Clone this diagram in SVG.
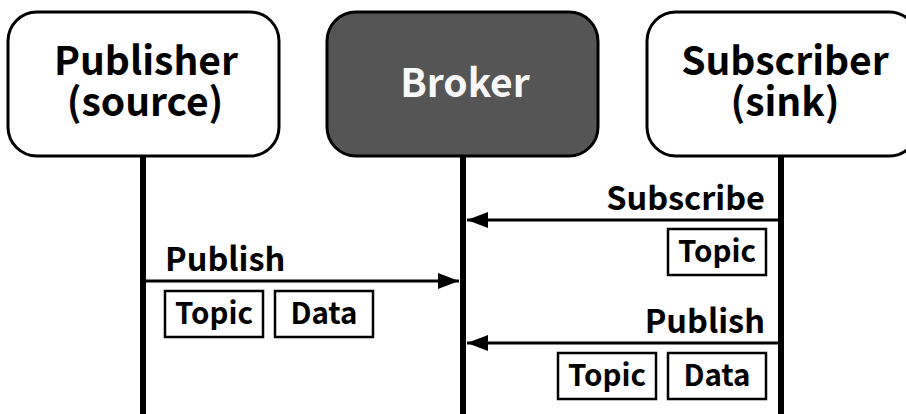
<svg xmlns="http://www.w3.org/2000/svg" width="906" height="414" viewBox="0 0 906 414">
<style>
.node{stroke:#000;stroke-width:3}
.t{font-family:"Noto Sans CJK SC","Noto Sans",sans-serif;font-weight:bold;fill:#000}
.title{font-size:39px;text-anchor:middle}
.lbl{font-size:32.5px}
.fld{font-size:29.5px;text-anchor:middle}
.life{stroke:#000;stroke-width:6}
.msg{stroke:#000;stroke-width:3}
.box{fill:#fff;stroke:#000;stroke-width:2.5}
</style>
<defs>
<marker id="ah" viewBox="0 0 21 16" refX="21" refY="8" markerWidth="21" markerHeight="16" markerUnits="userSpaceOnUse" orient="auto">
<path d="M0,0 L21,8 L0,16 Z" fill="#000"/>
</marker>
</defs>
<rect width="906" height="414" fill="#fff"/>
<g id="connectors">
<line class="life" x1="143" y1="156" x2="143" y2="414"/>
<line class="life" x1="463" y1="156" x2="463" y2="414"/>
<line class="life" x1="781" y1="156" x2="781" y2="414"/>
<line class="msg" x1="143" y1="281" x2="459" y2="281" marker-end="url(#ah)"/>
<line class="msg" x1="781" y1="220" x2="467" y2="220" marker-end="url(#ah)"/>
<line class="msg" x1="781" y1="343" x2="467" y2="343" marker-end="url(#ah)"/>
</g>
<g id="publisher">
<rect class="node" x="8" y="12" width="271" height="144" rx="29" fill="#fff"/>
<text class="t title"><tspan x="146" y="75">Publisher</tspan><tspan x="145" y="116">(source)</tspan></text>
</g>
<g id="broker">
<rect class="node" x="327" y="12" width="271" height="144" rx="29" fill="#555555"/>
<text class="t title" x="465" y="97" style="fill:#f8f8f8">Broker</text>
</g>
<g id="subscriber">
<rect class="node" x="647" y="12" width="271" height="144" rx="29" fill="#fff"/>
<text class="t title"><tspan x="785" y="75">Subscriber</tspan><tspan x="785" y="116">(sink)</tspan></text>
</g>
<g id="publish-msg">
<text class="t lbl" x="165" y="271">Publish</text>
<rect class="box" x="165" y="291" width="98" height="46"/>
<text class="t fld" x="214" y="324">Topic</text>
<rect class="box" x="275" y="291" width="98" height="46"/>
<text class="t fld" x="324" y="324">Data</text>
</g>
<g id="subscribe-msg">
<text class="t lbl" x="765" y="210" text-anchor="end">Subscribe</text>
<rect class="box" x="668" y="229" width="98" height="46"/>
<text class="t fld" x="717" y="262">Topic</text>
</g>
<g id="forward-msg">
<text class="t lbl" x="765" y="333" text-anchor="end">Publish</text>
<rect class="box" x="558" y="353" width="98" height="46"/>
<text class="t fld" x="607" y="386">Topic</text>
<rect class="box" x="668" y="353" width="98" height="46"/>
<text class="t fld" x="717" y="386">Data</text>
</g>
</svg>
